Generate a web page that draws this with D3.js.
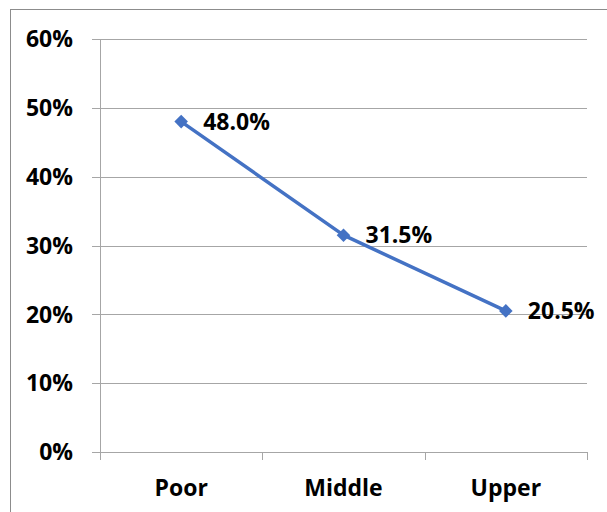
<!DOCTYPE html>
<html>
<head>
<meta charset="utf-8">
<script src="https://cdn.jsdelivr.net/npm/d3@7"></script>
<style>
    body { margin: 0; background: #fff; }
    svg { display: block; }
    .lbl { font-family: "Open Sans", "Liberation Sans", sans-serif; font-weight: bold; font-size: 23px; fill: #000; }
</style>
</head>
<body>
<svg id="chart" width="607" height="512"></svg>
<script>
const categories = ["Poor", "Middle", "Upper"];
const shares = [48.0, 31.5, 20.5];
const yTicks = [0, 10, 20, 30, 40, 50, 60];

const LINE_COLOR = "#4472c4";
const GRID_COLOR = "#a6a6a6";

const svg = d3.select("#chart");

// chart frame, runs off the right and bottom edge like the source
svg.append("rect")
    .attr("x", 10.5).attr("y", 9.5)
    .attr("width", 620).attr("height", 520)
    .attr("fill", "#fff")
    .attr("stroke", "#8c8c8c");

const plot = { left: 100, right: 587, top: 39, bottom: 452 };

const x = d3.scaleBand()
    .domain(categories)
    .range([plot.left, plot.right]);

const y = d3.scaleLinear()
    .domain([0, 60])
    .range([plot.bottom, plot.top]);

// horizontal gridlines + y ticks
svg.append("g")
    .selectAll("line")
    .data(yTicks)
    .join("line")
        .attr("x1", plot.left - 8)
        .attr("x2", plot.right)
        .attr("y1", (d) => Math.round(y(d)) + 0.5)
        .attr("y2", (d) => Math.round(y(d)) + 0.5)
        .attr("stroke", GRID_COLOR);

svg.append("g")
    .selectAll("text")
    .data(yTicks)
    .join("text")
        .attr("class", "lbl")
        .attr("x", plot.left - 27)
        .attr("y", (d) => y(d))
        .attr("dy", "0.36em")
        .attr("text-anchor", "end")
        .text((d) => d + "%");

// y axis line
svg.append("line")
    .attr("x1", plot.left + 0.5).attr("x2", plot.left + 0.5)
    .attr("y1", plot.top).attr("y2", plot.bottom)
    .attr("stroke", GRID_COLOR);

// category ticks at the band edges
const edges = categories.map((c) => x(c)).concat([x.range()[1]]);
svg.append("g")
    .selectAll("line")
    .data(edges)
    .join("line")
        .attr("x1", (d) => Math.round(d) + 0.5)
        .attr("x2", (d) => Math.round(d) + 0.5)
        .attr("y1", plot.bottom)
        .attr("y2", plot.bottom + 8)
        .attr("stroke", GRID_COLOR);

svg.append("g")
    .selectAll("text")
    .data(categories)
    .join("text")
        .attr("class", "lbl")
        .attr("x", (d) => x(d) + x.bandwidth() / 2)
        .attr("y", 496)
        .attr("text-anchor", "middle")
        .text((d) => d);

// series
const pts = categories.map((c, i) => ({ cat: c, v: shares[i] }));
const cx = (d) => x(d.cat) + x.bandwidth() / 2;

svg.append("path")
    .datum(pts)
    .attr("fill", "none")
    .attr("stroke", LINE_COLOR)
    .attr("stroke-width", 3.5)
    .attr("stroke-linejoin", "round")
    .attr("d", d3.line().x(cx).y((d) => y(d.v)));

svg.append("g")
    .selectAll("path")
    .data(pts)
    .join("path")
        .attr("transform", (d) => `translate(${cx(d)},${y(d.v)}) rotate(45)`)
        .attr("d", "M-4.8,-4.8H4.8V4.8H-4.8Z")
        .attr("fill", LINE_COLOR);

svg.append("g")
    .selectAll("text")
    .data(pts)
    .join("text")
        .attr("class", "lbl")
        .attr("x", (d) => cx(d) + 22)
        .attr("y", (d) => y(d.v))
        .attr("dy", "0.36em")
        .text((d) => d.v.toFixed(1) + "%");
</script>
</body>
</html>
